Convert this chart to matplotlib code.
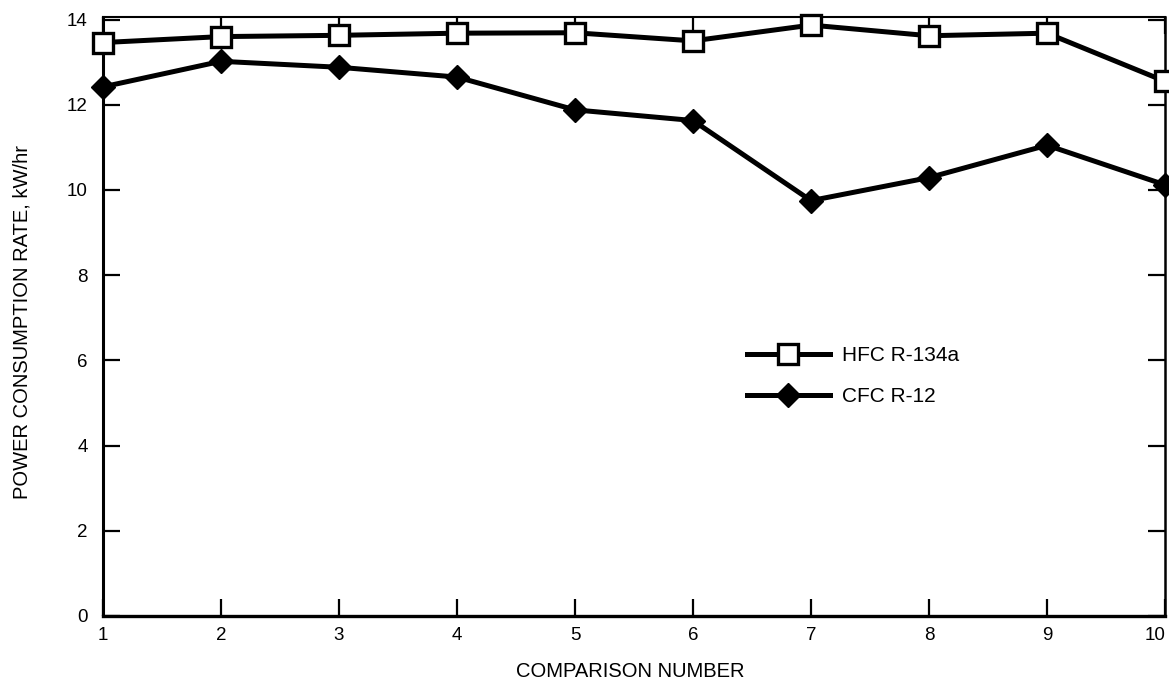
import matplotlib
matplotlib.use("Agg")
import matplotlib.pyplot as plt

plt.rcParams["font.family"] = ["Liberation Sans", "DejaVu Sans"]

comparison = [1, 2, 3, 4, 5, 6, 7, 8, 9, 10]
hfc_r134a = [13.46, 13.60, 13.63, 13.68, 13.69, 13.50, 13.87, 13.62, 13.68, 12.55]
cfc_r12 = [12.42, 13.02, 12.88, 12.65, 11.88, 11.63, 9.75, 10.29, 11.05, 10.12]
labels = ["HFC R-134a", "CFC R-12"]

W, H = 1169, 681
fig = plt.figure(figsize=(W / 100, H / 100), dpi=100)
# axes box in pixels: left 103, right 1165, top 17, bottom 616
ax = fig.add_axes([103 / W, (H - 616) / H, 1062 / W, 599 / H])

ax.plot(comparison, hfc_r134a, color="black", lw=3.6, marker="s", ms=14,
        mfc="white", mec="black", mew=2.4, clip_on=False, zorder=4,
        label=labels[0])
ax.plot(comparison, cfc_r12, color="black", lw=3.6, marker="D", ms=12,
        mfc="black", mec="black", clip_on=False, zorder=4, label=labels[1])

ax.set_xlim(1, 10)
ax.set_ylim(0, 14.06)
ax.set_xticks(comparison)
ax.set_yticks(range(0, 15, 2))

ax.tick_params(axis="both", direction="in", length=12, width=1.6,
               labelsize=13.5, top=True, right=True)
ax.tick_params(axis="y", pad=11)
ax.tick_params(axis="x", pad=8)
# last x label sits flush against the right edge, like the original
ax.get_xticklabels()[-1].set_horizontalalignment("right")

for side, w in {"left": 2.2, "bottom": 2.4, "top": 1.5, "right": 1.8}.items():
    ax.spines[side].set_linewidth(w)

ax.set_xlabel("COMPARISON NUMBER", fontsize=14.5)
ax.set_ylabel("POWER CONSUMPTION RATE, kW/hr", fontsize=14.5)
ax.xaxis.set_label_coords(0.496, -0.076)
ax.yaxis.set_label_coords(-0.067, 0.49)

ax.legend(loc="center left", bbox_to_anchor=(0.606, 0.40), frameon=False,
          fontsize=15, handlelength=4, handletextpad=0.6,
          labelspacing=1.05, borderpad=0, borderaxespad=0)

fig.savefig("out.png", dpi=100)
